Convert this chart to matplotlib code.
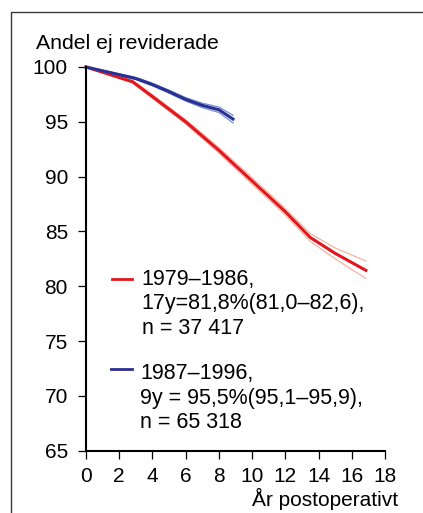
import matplotlib
matplotlib.use("Agg")
import matplotlib.pyplot as plt
from matplotlib.lines import Line2D
from matplotlib.patches import Rectangle

plt.rcParams['font.family'] = ['Liberation Sans', 'DejaVu Sans']

# 1979-1986 cohort
red_x = [0, 1, 2, 2.8, 4, 6, 8, 10, 12, 13.5, 15, 16.85]
red_y = [100, 99.52, 99.04, 98.66, 97.3, 95.0, 92.4, 89.6, 86.8, 84.45, 83.0, 81.45]
red_hi = [100, 99.57, 99.12, 98.78, 97.47, 95.2, 92.65, 89.9, 87.1, 84.8, 83.5, 82.3]
red_lo = [100, 99.47, 98.96, 98.54, 97.13, 94.8, 92.15, 89.3, 86.5, 84.1, 82.5, 80.7]

# 1987-1996 cohort
blue_x = [0, 1, 2, 3, 4, 5, 6, 7, 8, 8.85]
blue_y = [100, 99.65, 99.3, 98.95, 98.4, 97.75, 97.05, 96.5, 96.1, 95.25]
blue_hi = [100, 99.7, 99.38, 99.05, 98.52, 97.89, 97.21, 96.7, 96.35, 95.6]
blue_lo = [100, 99.6, 99.22, 98.85, 98.28, 97.61, 96.89, 96.3, 95.85, 94.9]

red_label = ["1979\u20131986,", "17y=81,8%(81,0\u201382,6),", "n = 37 417"]
blue_label = ["1987\u20131996,", "9y = 95,5%(95,1\u201395,9),", "n = 65 318"]

RED = "#e3161d"
RED_BAND = "#f7b3a3"
BLUE = "#2b2f8f"
BLUE_BAND = "#6f8fd8"

W, H = 423, 513
fig = plt.figure(figsize=(W / 100, H / 100), dpi=100)


def fx(px):
    return px / W


def fy(py):
    return 1 - py / H


ax = fig.add_axes([fx(86), fy(450.7), (385 - 86) / W, (450.7 - 67) / H])

ax.plot(red_x, red_hi, color=RED_BAND, lw=0.9, clip_on=False)
ax.plot(red_x, red_lo, color=RED_BAND, lw=0.9, clip_on=False)
ax.plot(red_x, red_y, color=RED, lw=2.2, clip_on=False)
ax.plot(blue_x, blue_hi, color=BLUE_BAND, lw=0.9, clip_on=False)
ax.plot(blue_x, blue_lo, color=BLUE_BAND, lw=0.9, clip_on=False)
ax.plot(blue_x, blue_y, color=BLUE, lw=2.2, clip_on=False)

ax.set_xlim(0, 18)
ax.set_ylim(65, 100)
ax.set_xticks(range(0, 19, 2))
ax.set_yticks(range(65, 101, 5))
for s in ["top", "right"]:
    ax.spines[s].set_visible(False)
for s in ["left", "bottom"]:
    ax.spines[s].set_linewidth(1.5)
ax.tick_params(direction="out", length=6, width=0.9, pad=7, labelsize=15)
ax.tick_params(axis="x", pad=5.5)

fig.text(fx(36), fy(49.3), "Andel ej reviderade", fontsize=15.3, va="baseline")
fig.text(fx(398), fy(506), "År postoperativt", fontsize=15, va="baseline", ha="right")

# legend drawn by hand, line by line
fig.add_artist(Line2D([fx(112), fx(132)], [fy(279.3), fy(279.3)], color=RED, lw=2))
for i, t in enumerate(red_label):
    fig.text(fx(141.5), fy(285 + 24.5 * i), t, fontsize=15.5, va="baseline")
fig.add_artist(Line2D([fx(111), fx(131.5)], [fy(369.3), fy(369.3)], color=BLUE, lw=2))
for i, t in enumerate(blue_label):
    fig.text(fx(140), fy(379 + 24.7 * i), t, fontsize=15.5, va="baseline")

# outer frame (open at the bottom and right of the picture)
fig.add_artist(Rectangle((fx(11), -0.05), 1.0, fy(12.3) + 0.05, transform=fig.transFigure,
                         fill=False, edgecolor="#3a3a3a", lw=1.0))

fig.savefig("out.png", dpi=100)
